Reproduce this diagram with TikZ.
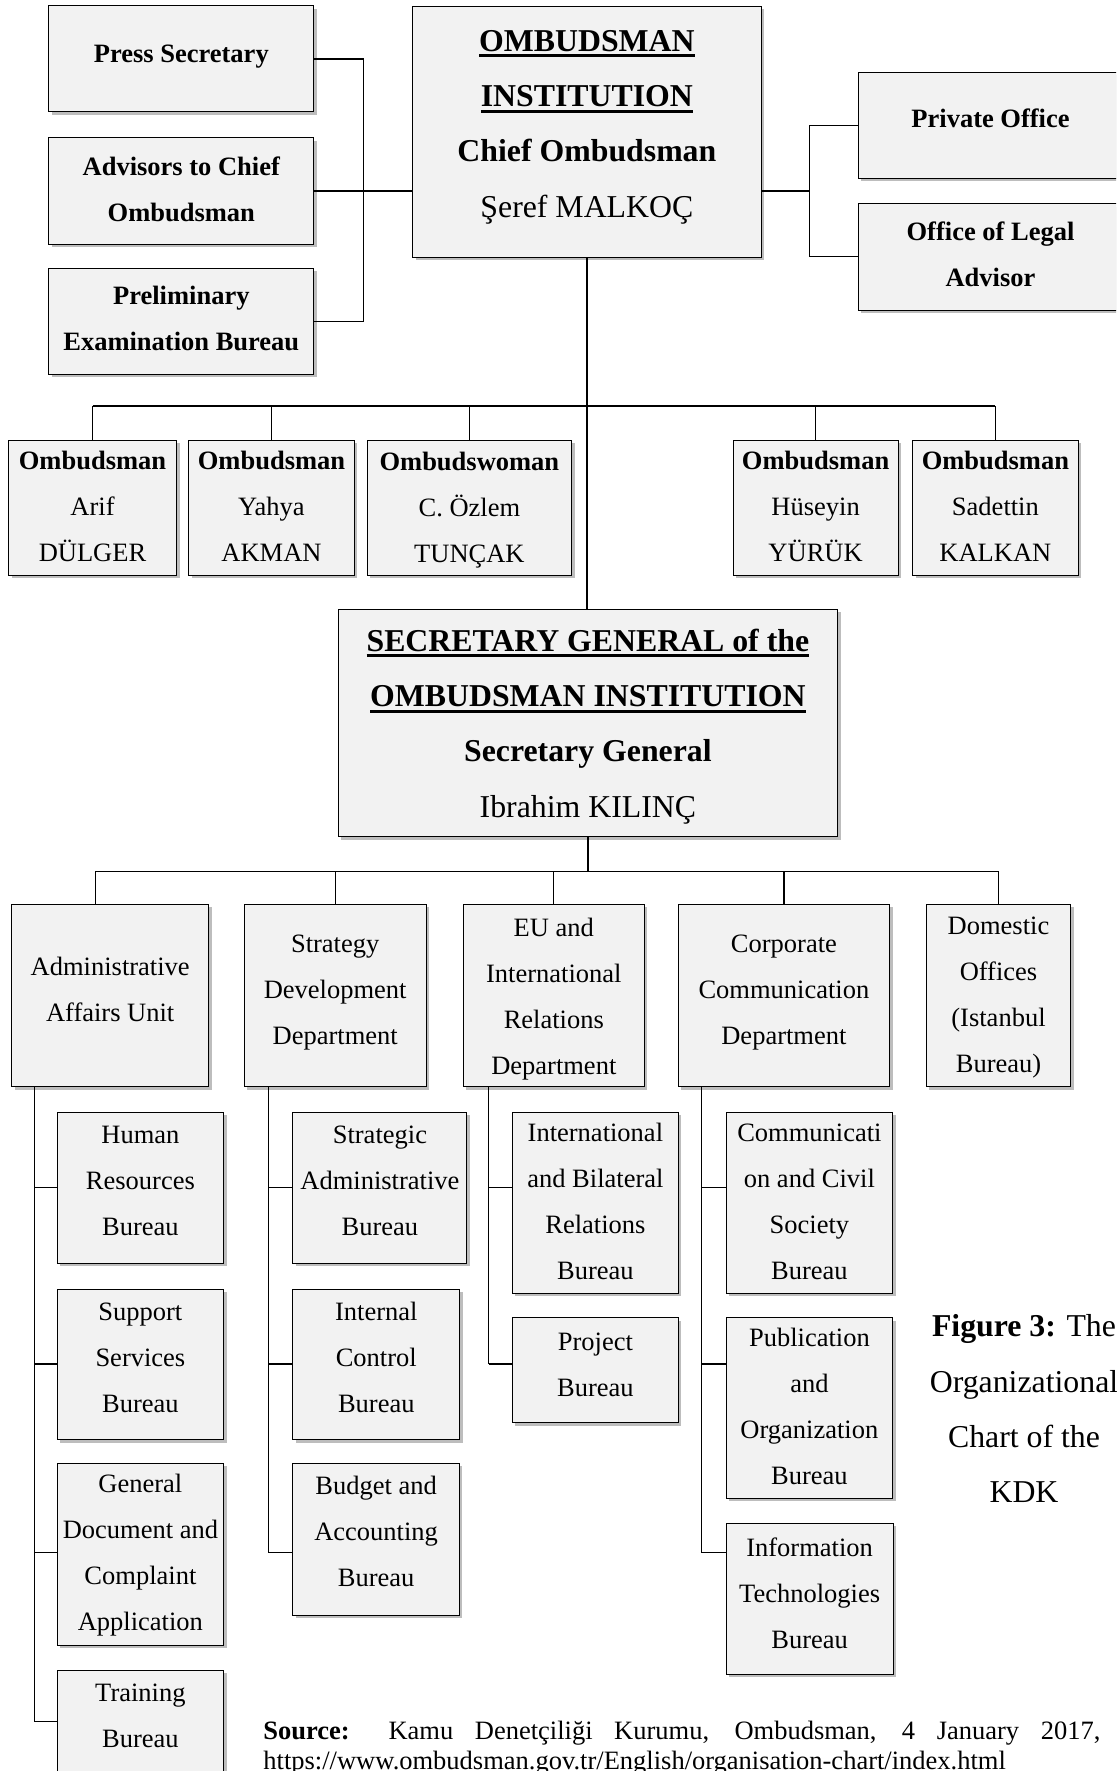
\documentclass[tikz,border=0pt]{standalone}
\usepackage{fontspec}
\setmainfont{Liberation Serif}
\usepackage{tikz}
\usetikzlibrary{shadows}
\definecolor{boxfill}{HTML}{F2F2F2}
\definecolor{boxshade}{HTML}{BDBDBD}
\newcommand{\thickul}[1]{\sbox0{#1}\rlap{\rule[-3pt]{\wd0}{1.35pt}}\usebox0}

\begin{document}
\begin{tikzpicture}[
			x=0.5pt, y=-0.5pt,
			box/.style={draw, line width=0.5pt, fill=boxfill, inner sep=0pt,
				drop shadow={shadow xshift=1.5pt, shadow yshift=-1.5pt, fill=boxshade, opacity=1}},
			tx/.style={align=center, inner sep=0pt, font=\fontsize{13.25}{23}\selectfont},
			btx/.style={tx, font=\bfseries\fontsize{13.25}{23}\selectfont},
			bigtx/.style={tx, font=\bfseries\fontsize{15.9}{27.7}\selectfont},
			wh/.style 2 args={minimum width=#1*0.5pt, minimum height=#2*0.5pt},
			link/.style={line width=0.6pt}
			]

			\useasboundingbox (0,0) rectangle (1116,1771);
			\clip (0,0) rectangle (1116,1771);

			\def\rowa{1187.3}
			\def\rowb{1364}
			\def\rowc{1552.7}
			\def\rowd{1721.7}

			% top level
			\node[box, wh={348.7}{251.3}, label={[bigtx, yshift=2.3pt]center:\thickul{OMBUDSMAN}\\\thickul{INSTITUTION}\\Chief Ombudsman\\\mdseries Şeref MALKOÇ}] (chief) at (586.9,131.7) {};
			\node[box, wh={264.7}{106}, label={[btx, yshift=1.1pt]center:Press Secretary}] (press) at (181.3,59) {};
			\node[box, wh={264.7}{106.6}, label={[btx, yshift=0.85pt]center:Advisors to Chief\\Ombudsman}] (advis) at (181.3,191) {};
			\node[box, wh={264.7}{106}, label={[btx, yshift=1.4pt]center:Preliminary\\Examination Bureau}] (prelim) at (181.3,321.3) {};
			\node[box, wh={264.7}{106.3}, label={[btx, yshift=3.4pt]center:Private Office}] (private) at (990.5,125.2) {};
			\node[box, wh={264.7}{106.3}, label={[btx, yshift=1.1pt]center:Office of Legal\\Advisor}] (legal) at (990.5,256.9) {};

			\coordinate (lbus) at (363.6,191);
			\coordinate (rbus) at (809.3,191);
			\draw[link] (press.east) -| (lbus) |- (prelim.east);
			\draw[link] (advis.east) -- (chief.west |- advis.east);
			\draw[link] (chief.east |- rbus) -- (rbus);
			\draw[link] (private.west) -| (rbus) |- (legal.west);

			% ombudsmen
			\node[box, wh={168}{135}, label={[tx, yshift=0.6pt]center:\textbf{Ombudsman}\\Arif\\DÜLGER}] (arif) at (92.5,507.5) {};
			\node[box, wh={165.8}{135}, label={[tx, yshift=0.6pt]center:\textbf{Ombudsman}\\Yahya\\AKMAN}] (yahya) at (271.5,507.5) {};
			\node[box, wh={204.2}{135}, label={[tx, yshift=-1.4pt]center:\textbf{Ombudswoman}\\C. Özlem\\TUNÇAK}] (ozlem) at (469.4,507.5) {};
			\node[box, wh={165.2}{135}, label={[tx, yshift=0.6pt]center:\textbf{Ombudsman}\\Hüseyin\\YÜRÜK}] (huseyin) at (815.6,507.5) {};
			\node[box, wh={165.8}{135}, label={[tx, yshift=0.6pt]center:\textbf{Ombudsman}\\Sadettin\\KALKAN}] (sadettin) at (995.4,507.5) {};

			\node[box, wh={499.3}{227.4}, label={[bigtx, yshift=-1.7pt]center:\thickul{SECRETARY GENERAL of the}\\\thickul{OMBUDSMAN INSTITUTION}\\Secretary General\\\mdseries Ibrahim KILINÇ}] (secgen) at (587.9,723) {};

			\coordinate (obus) at (585.9,406);
			\draw[link] (chief.south) -- (chief.south |- secgen.north);
			\draw[link] (arif.north |- obus) -- (sadettin.north |- obus);
			\foreach \n in {arif,yahya,ozlem,huseyin,sadettin}
				\draw[link] (\n.north) -- (\n.north |- obus);

			% departments
			\node[box, wh={196.8}{182.4}, label={[tx, yshift=3.1pt]center:Administrative\\Affairs Unit}] (admin) at (110.2,995.5) {};
			\node[box, wh={181.7}{182.4}, label={[tx, yshift=1.5pt]center:Strategy\\Development\\Department}] (strat) at (335.2,995.5) {};
			\node[box, wh={181.2}{182.4}, label={[tx, yshift=-1.7pt]center:EU and\\International\\Relations\\Department}] (eu) at (553.8,995.5) {};
			\node[box, wh={211.8}{182.4}, label={[tx, yshift=1.5pt]center:Corporate\\Communication\\Department}] (corp) at (783.9,995.5) {};
			\node[box, wh={144.3}{182.4}, label={[tx, yshift=-1.1pt]center:Domestic\\Offices\\(Istanbul\\Bureau)}] (dom) at (998.5,995.5) {};

			\coordinate (dbus) at (586,871.7);
			\coordinate (adrop) at (95.4,871.7);
			\draw[link] (secgen.south) -- (secgen.south |- dbus);
			\draw[link] (adrop) -- (dom.north |- dbus);
			\draw[link] (adrop) -- (adrop |- admin.north);
			\foreach \n in {strat,eu,corp,dom}
				\draw[link] (\n.north) -- (\n.north |- dbus);

			% bureaus
			\node[box, wh={166.5}{151}, label={[tx, yshift=3.4pt]center:Human\\Resources\\Bureau}] (hr) at (140.4,1187.8) {};
			\node[box, wh={166.5}{150.7}, label={[tx, yshift=3.4pt]center:Support\\Services\\Bureau}] (supp) at (140.4,1364.4) {};
			\node[box, wh={166.5}{181.7}, label={[tx, yshift=-0.7pt]center:General\\Document and\\Complaint\\Application}] (gendoc) at (140.4,1554.2) {};
			\node[box, wh={166.5}{103.4}, label={[tx, yshift=2.8pt]center:Training\\Bureau}] (train) at (140.4,1721.7) {};

			\node[box, wh={173.9}{151}, label={[tx, yshift=3.7pt]center:Strategic\\Administrative\\Bureau}] (stratadm) at (379.9,1187.8) {};
			\node[box, wh={166.7}{150.7}, label={[tx, yshift=3.4pt]center:Internal\\Control\\Bureau}] (intctrl) at (376.3,1364.4) {};
			\node[box, wh={166.4}{151.7}, label={[tx, yshift=3.7pt]center:Budget and\\Accounting\\Bureau}] (budget) at (376.1,1539.2) {};

			\node[box, wh={166.1}{181}, label={[tx, yshift=0.6pt]center:International\\and Bilateral\\Relations\\Bureau}] (intbil) at (595.4,1202.8) {};
			\node[box, wh={166.1}{105}, label={[tx, yshift=2.8pt]center:Project\\Bureau}] (project) at (595.4,1370.2) {};

			\node[box, wh={166.5}{181}, label={[tx, yshift=0.6pt]center:Communicati\\on and Civil\\Society\\Bureau}] (commciv) at (809.4,1202.8) {};
			\node[box, wh={166.5}{180.6}, label={[tx, yshift=0.6pt]center:Publication\\and\\Organization\\Bureau}] (publ) at (809.4,1408) {};
			\node[box, wh={167.2}{150.7}, label={[tx, yshift=2.8pt]center:Information\\Technologies\\Bureau}] (infotech) at (809.6,1598.7) {};

			\draw[link] (34.6,\rowd) -- (34.6,\rowd |- admin.south);
			\foreach \b/\r in {hr/\rowa,supp/\rowb,gendoc/\rowc,train/\rowd}
				\draw[link] (34.6,\r) -- (\b.west |- 34.6,\r);

			\draw[link] (268.2,\rowc) -- (268.2,\rowc |- strat.south);
			\foreach \b/\r in {stratadm/\rowa,intctrl/\rowb,budget/\rowc}
				\draw[link] (268.2,\r) -- (\b.west |- 268.2,\r);

			\draw[link] (488.5,\rowb) -- (488.5,\rowb |- eu.south);
			\foreach \b/\r in {intbil/\rowa,project/\rowb}
				\draw[link] (488.5,\r) -- (\b.west |- 488.5,\r);

			\draw[link] (701.8,\rowc) -- (701.8,\rowc |- corp.south);
			\foreach \b/\r in {commciv/\rowa,publ/\rowb,infotech/\rowc}
				\draw[link] (701.8,\r) -- (\b.west |- 701.8,\r);

			% caption and source
			\node[align=center, inner sep=0pt, font=\fontsize{15.9}{27.6}\selectfont] (caption) at (1024,1408.7) {\textbf{Figure 3:} The\\Organizational\\Chart of the\\KDK};
			\node[anchor=west, inner sep=0pt, text width=418.5pt, align=justify, font=\fontsize{13.25}{15}\selectfont] (source) at (263,1748) {\textbf{Source:} Kamu Denetçiliği Kurumu, Ombudsman, 4 January 2017,\linebreak https://www.ombudsman.gov.tr/English/organisation-chart/index.html};

			\end{tikzpicture}
\end{document}
